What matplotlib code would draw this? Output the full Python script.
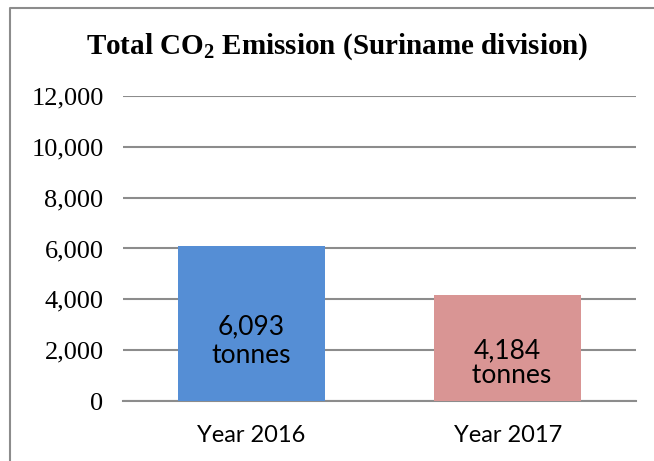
import matplotlib
matplotlib.use('Agg')
import matplotlib.pyplot as plt
from matplotlib.lines import Line2D
from matplotlib.ticker import FuncFormatter

categories = ['Year 2016', 'Year 2017']
emissions = [6093, 4184]
labels = ['6,093\ntonnes', '4,184\n tonnes']
colors = ['#558ED5', '#D99594']
yticks = [0, 2000, 4000, 6000, 8000, 10000, 12000]

fig = plt.figure(figsize=(6.54, 4.61), dpi=100)
ax = fig.add_axes([123 / 654, 1 - 401 / 461, 513 / 654, 305 / 461])

x = range(len(categories))
bars = ax.bar(x, emissions, width=0.575, color=colors, zorder=3)
ax.set_xlim(-0.5, 1.5)
ax.set_ylim(0, 12000)
ax.set_yticks(yticks)
ax.yaxis.set_major_formatter(FuncFormatter(lambda v, p: f'{int(v):,}'))
ax.set_xticks(list(x))
ax.set_xticklabels(categories, fontfamily='Lato', fontsize=17)
for t in ax.get_yticklabels():
    t.set_fontfamily('Liberation Serif')
    t.set_fontsize(19)

ax.tick_params(axis='y', length=0, pad=14)
ax.tick_params(axis='x', length=0, pad=17)
ax.grid(axis='y', color='#8c8c8c', linewidth=1.5, zorder=0)
for s in ['top', 'right', 'left']:
    ax.spines[s].set_visible(False)
ax.spines['bottom'].set_color('#8c8c8c')
ax.spines['bottom'].set_linewidth(1.5)

# labels inside bars
offsets = [0.388, 0.353]
spacing = [1.2, 0.98]
for b, lab, off, ls in zip(bars, labels, offsets, spacing):
    ax.text(b.get_x() + b.get_width() / 2, b.get_height() * off, lab,
            ha='center', va='center', fontfamily='Lato', fontsize=19,
            linespacing=ls, color='black', zorder=4)

fig.text(337 / 654, 1 - 47 / 461,
         'Total CO$_\\mathregular{2}$ Emission (Suriname division)',
         ha='center', va='center', fontfamily='Liberation Serif',
         fontweight='bold', fontsize=21)

# frame around the chart
fig.add_artist(Line2D([10 / 654, 10 / 654, 1], [0, 1 - 8 / 461, 1 - 8 / 461],
                      transform=fig.transFigure, color='#8c8c8c', linewidth=1.5))

fig.savefig('out.png', dpi=100)
